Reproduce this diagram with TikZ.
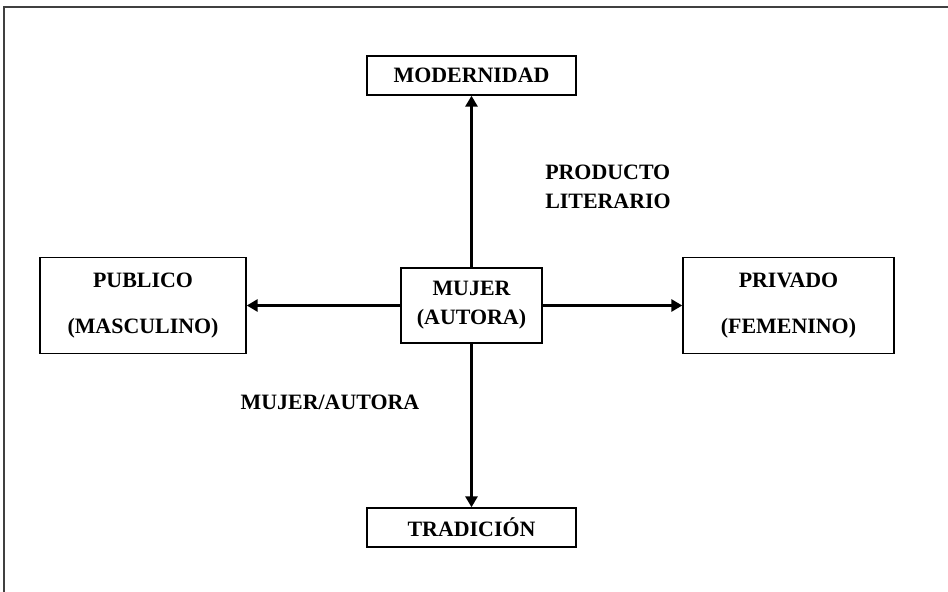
\documentclass[tikz,border=0pt]{standalone}
\usepackage{fontspec}
\setmainfont{Liberation Serif}
\usepackage{tikz}
\usetikzlibrary{arrows.meta}

\tikzset{
	caja/.style={draw, line width=1.4bp, inner sep=0pt, align=center,
		font=\fontsize{22}{29}\selectfont\bfseries},
	rotulo/.style={inner sep=0pt, align=left,
		font=\fontsize{22}{29}\selectfont\bfseries},
	flecha/.style={line width=3.5bp, -{Triangle[length=11bp,width=12bp]}},
}

\begin{document}
\begin{tikzpicture}[x=1bp, y=-1bp]
	\useasboundingbox (0,0) rectangle (948,592);
	% marco
	\draw[line width=1.6bp, black!75] (948,7) -- (4,7) -- (4,592);
	\node[caja, minimum width=209bp, minimum height=39bp] (modernidad) at (471.5,75.5) {MODERNIDAD};
	\node[caja, minimum width=141bp, minimum height=75bp] (mujer) at (471.5,305.5) {MUJER\\(AUTORA)};
	\node[caja, minimum width=206bp, minimum height=96bp, font=\fontsize{22}{47}\selectfont\bfseries] (publico) at (143,305.5) {PUBLICO\\(MASCULINO)};
	\node[caja, minimum width=211bp, minimum height=96bp, font=\fontsize{22}{47}\selectfont\bfseries] (privado) at (788.5,305.5) {PRIVADO\\(FEMENINO)};
	\node[caja, minimum width=209bp, minimum height=39bp] (tradicion) at (471.5,527.5) {TRADICIÓN};
	\node[rotulo] (producto) at (608,187) {PRODUCTO\\LITERARIO};
	\node[rotulo] (autora) at (330,402) {MUJER/AUTORA};
	\draw[flecha] (mujer.north) -- (modernidad.south);
	\draw[flecha] (mujer.south) -- (tradicion.north);
	\draw[flecha] (mujer.west) -- (publico.east);
	\draw[flecha] (mujer.east) -- (privado.west);
\end{tikzpicture}
\end{document}
